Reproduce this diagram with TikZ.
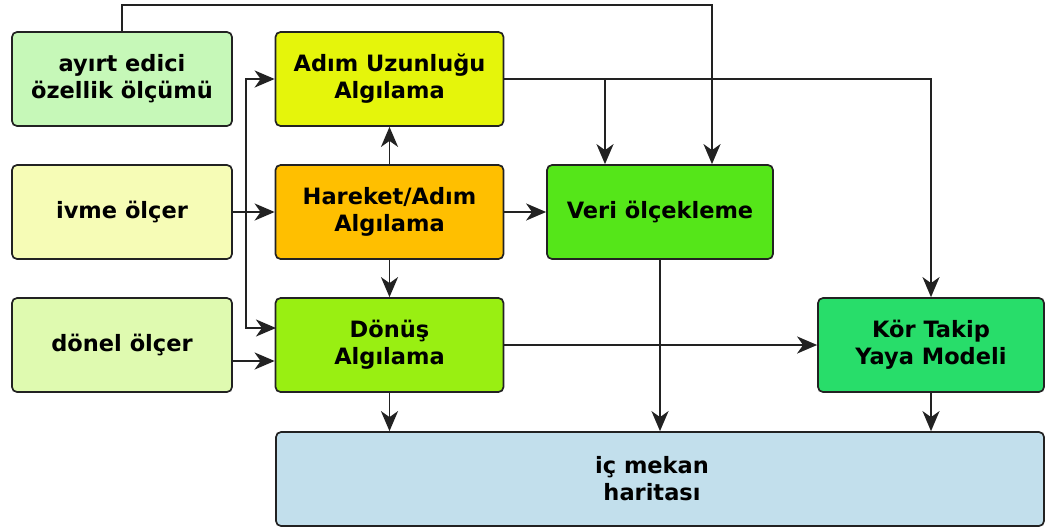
\documentclass[tikz,border=0pt]{standalone}
\usepackage{fontspec}
\setmainfont{DejaVu Sans}
\usetikzlibrary{arrows.meta}
\definecolor{cAyirt}{HTML}{C6F8B8}
\definecolor{cAdim}{HTML}{E5F50B}
\definecolor{cIvme}{HTML}{F6FCB6}
\definecolor{cHareket}{HTML}{FFBF00}
\definecolor{cVeri}{HTML}{55E619}
\definecolor{cDonel}{HTML}{DFFAB0}
\definecolor{cDonus}{HTML}{99EF12}
\definecolor{cKor}{HTML}{28DD6A}
\definecolor{cHarita}{HTML}{C2DFEC}
\definecolor{cLine}{HTML}{222222}
\tikzset{
  blok/.style={draw=cLine, line width=1.7pt, rounded corners=5pt, inner sep=0pt,
    minimum height=94pt, align=center,
    font=\fontsize{22.5}{27}\selectfont\bfseries},
  ok/.style={draw=cLine, line width=1.8pt, ->}
}
\begin{document}
\begin{tikzpicture}[x=1pt,y=-1pt,
  >={Stealth[length=20bp,width=17bp,inset=6bp]}]
\useasboundingbox (0,0) rectangle (1046,528);

% sensor and processing blocks
\node[blok, fill=cAyirt, minimum width=220pt] (ayirt) at (122,79) {ayırt edici\\özellik ölçümü};
\node[blok, fill=cAdim, minimum width=228pt] (adim) at (389.5,79) {Adım Uzunluğu\\Algılama};
\node[blok, fill=cIvme, minimum width=220pt] (ivme) at (122,212) {ivme ölçer};
\node[blok, fill=cHareket, minimum width=228pt] (hareket) at (389.5,212) {Hareket/Adım\\Algılama};
\node[blok, fill=cVeri, minimum width=226pt] (veri) at (660,212) {Veri ölçekleme};
\node[blok, fill=cDonel, minimum width=220pt] (donel) at (122,345) {dönel ölçer};
\node[blok, fill=cDonus, minimum width=228pt] (donus) at (389.5,345) {Dönüş\\Algılama};
\node[blok, fill=cKor, minimum width=226pt] (kor) at (931,345) {Kör Takip\\Yaya Modeli};
\node[blok, fill=cHarita, minimum width=768pt] (harita) at (660,479) {};
\node[align=center, font=\fontsize{22.5}{27}\selectfont\bfseries] (haritaYazi) at (652,479) {iç mekan\\ haritası};

% routing points
\coordinate (ust) at (712,5);
\coordinate (dal) at (605,79);
\coordinate (hat) at (245.7,212);
\coordinate (donusUst) at (276,328);
\coordinate (donelCikis) at (232,361);

% feature measurement into data scaling
\draw[ok] (ayirt.north) |- (ust) -- (ust |- veri.north);
% step length into data scaling and pedestrian model
\draw[ok] (adim.east) -| (kor.north);
\draw[ok] (dal) -- (dal |- veri.north);
% accelerometer feeds
\draw[ok] (ivme.east) -- (hareket.west);
\draw[ok] (hat) |- (adim.west);
\draw[ok] (hat) |- (donusUst);
% gyroscope
\draw[ok] (donelCikis) -- (donelCikis -| donus.west);
% step detection outputs
\draw[ok] (hareket.north) -- (adim.south);
\draw[ok] (hareket.south) -- (donus.north);
\draw[ok] (hareket.east) -- (veri.west);
% into the model and the map
\draw[ok] (donus.east) -- (kor.west);
\draw[ok] (donus.south) -- (donus.south |- harita.north);
\draw[ok] (veri.south) -- (veri.south |- harita.north);
\draw[ok] (kor.south) -- (kor.south |- harita.north);
\end{tikzpicture}
\end{document}
